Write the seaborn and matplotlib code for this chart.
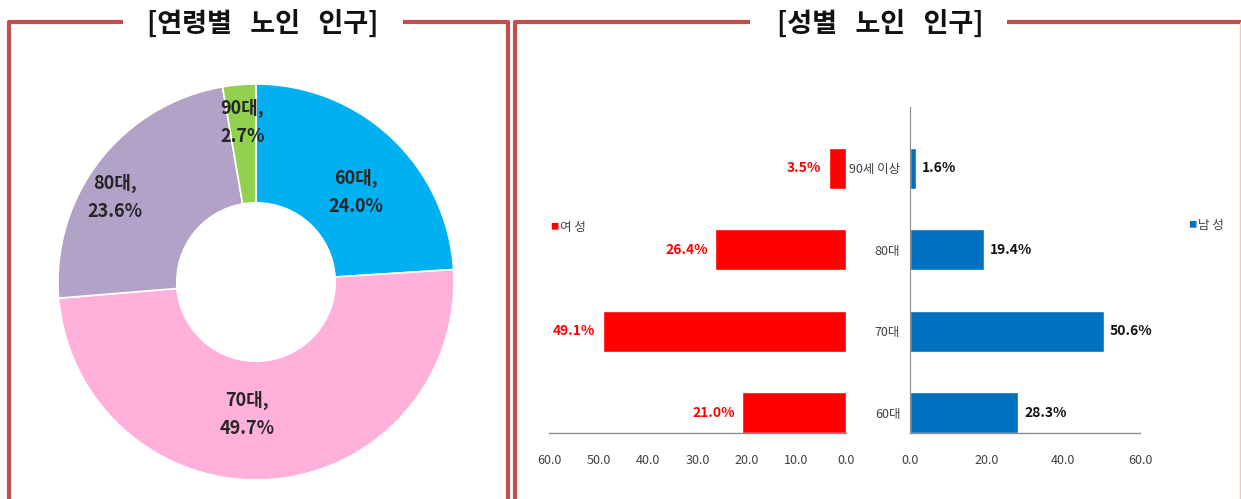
import numpy as np
import matplotlib
matplotlib.use('Agg')
import matplotlib.pyplot as plt
import seaborn as sns
import pandas as pd
from matplotlib.lines import Line2D

sns.set_style('white')
plt.rcParams['font.family'] = ['Noto Sans CJK KR', 'DejaVu Sans']

# -----------------------------
# 연령별 노인 인구 (도넛)
age_labels = ['60대', '70대', '80대', '90대']
age_values = [24.0, 49.7, 23.6, 2.7]
age_colors = ['#00B0F0', '#FFB1DC', '#B3A2C7', '#92D050']
# 라벨 위치 (반지름 비율, 각도 보정)
label_dist = [0.68, 0.67, 0.83, 0.81]
label_shift = [-5, -8, 7, 0]

# 성별 노인 인구 (막대)
sex_cats = ['90세 이상', '80대', '70대', '60대']
female = [3.5, 26.4, 49.1, 21.0]
male = [1.6, 19.4, 50.6, 28.3]

red = '#FF0000'
blue = '#0070C0'
frame = '#C0504D'

fig = plt.figure(figsize=(12.41, 4.99), dpi=100)
W, H = 1241, 499

def fx(px):
    return px / W

def fy(py):
    return 1 - py / H

# -----------------------------
# 테두리 + 제목
def frame_line(xs, ys, lw=3.0, color=frame):
    fig.add_artist(Line2D([fx(x) for x in xs], [fy(y) for y in ys],
                          color=color, lw=lw, solid_capstyle='butt'))

frame_line([9, 9, 123], [499, 22, 22])
frame_line([403, 508.5, 508.5], [22, 22, 499])
frame_line([514.5, 514.5, 750], [499, 22, 22])
frame_line([1007, 1241], [22, 22])
frame_line([1240, 1240], [22, 499], lw=1.0, color='#F4C7C7')

fig.text(fx(263), fy(24), '[연령별   노인   인구]', ha='center', va='center',
         fontsize=19.5, fontweight='bold', color='#111111')
fig.text(fx(880), fy(24), '[성별   노인   인구]', ha='center', va='center',
         fontsize=19.5, fontweight='bold', color='#111111')

# -----------------------------
# 도넛 차트
cx, cy, r = 256, 282, 198
ax1 = fig.add_axes([fx(cx - r), fy(cy + r), 2 * r / W, 2 * r / H])
wedges, _ = ax1.pie(age_values, colors=age_colors, startangle=90, counterclock=False,
                    radius=1.0, wedgeprops=dict(width=0.6, edgecolor='white', linewidth=1.2))
ax1.set_xlim(-1, 1)
ax1.set_ylim(-1, 1)
ax1.set_aspect('auto')

for w, lab, val, d, sh in zip(wedges, age_labels, age_values, label_dist, label_shift):
    ang = np.deg2rad((w.theta1 + w.theta2) / 2 + sh)
    ax1.text(d * np.cos(ang), d * np.sin(ang), f'{lab},\n{val:.1f}%',
             ha='center', va='center', fontsize=13, fontweight='bold',
             color='#262626', linespacing=1.6)

# -----------------------------
# 성별 막대
df = pd.DataFrame({'cat': sex_cats, 'female': female, 'male': male})

ax_f = fig.add_axes([fx(549), fy(433), (846 - 549) / W, (433 - 107) / H])
ax_m = fig.add_axes([fx(910), fy(433), (1140 - 910) / W, (433 - 107) / H])

sns.barplot(data=df, y='cat', x='female', order=sex_cats, color=red,
            saturation=1, width=0.5, ax=ax_f)
sns.barplot(data=df, y='cat', x='male', order=sex_cats, color=blue,
            saturation=1, width=0.5, ax=ax_m)

tick_col = '#404040'
spine_col = '#8C8C8C'

for ax in (ax_f, ax_m):
    ax.set_ylim(len(sex_cats) - 0.75, -0.75)
    ax.set_xlabel('')
    ax.set_ylabel('')
    ax.set_facecolor('none')
    for s in ('top', 'right', 'left'):
        ax.spines[s].set_visible(False)
    ax.spines['bottom'].set_color(spine_col)
    ax.spines['bottom'].set_linewidth(1.0)
    ax.tick_params(axis='x', direction='out', length=5, width=1, color=spine_col,
                   labelsize=9, labelcolor=tick_col, pad=10)

# 여성 축
ax_f.set_xlim(60, 0)
ax_f.set_xticks(np.arange(0, 61, 10))
ax_f.set_xticklabels([f'{v:.1f}' for v in np.arange(0, 61, 10)])
ax_f.set_yticks([])
for i, v in enumerate(female):
    ax_f.text(v + 1.5, i, f'{v:.1f}%', ha='right', va='center', fontsize=10,
              fontweight='bold', color=red)

# 남성 축
ax_m.set_xlim(0, 60)
ax_m.set_xticks(np.arange(0, 61, 20))
ax_m.set_xticklabels([f'{v:.1f}' for v in np.arange(0, 61, 20)])
ax_m.spines['left'].set_visible(True)
ax_m.spines['left'].set_color(spine_col)
ax_m.set_yticks(range(len(sex_cats)))
ax_m.set_yticklabels(sex_cats)
ax_m.set_yticks(np.arange(-0.75, len(sex_cats) - 0.5, 0.5), minor=True)
ax_m.tick_params(axis='y', which='major', length=0, labelsize=9, labelcolor=tick_col, pad=7)
ax_m.tick_params(axis='y', which='minor', length=4, color=spine_col, direction='out')
for i, v in enumerate(male):
    ax_m.text(v + 1.5, i, f'{v:.1f}%', ha='left', va='center', fontsize=10,
              fontweight='bold', color='#111111')

# 범례
fig.text(fx(550), fy(227), '■', color=red, fontsize=6, va='center', ha='left')
fig.text(fx(560), fy(227), '여 성', color=tick_col, fontsize=9, va='center', ha='left')
fig.text(fx(1188), fy(225), '■', color=blue, fontsize=6, va='center', ha='left')
fig.text(fx(1198), fy(225), '남 성', color=tick_col, fontsize=9, va='center', ha='left')

fig.savefig('out.png', dpi=100)
